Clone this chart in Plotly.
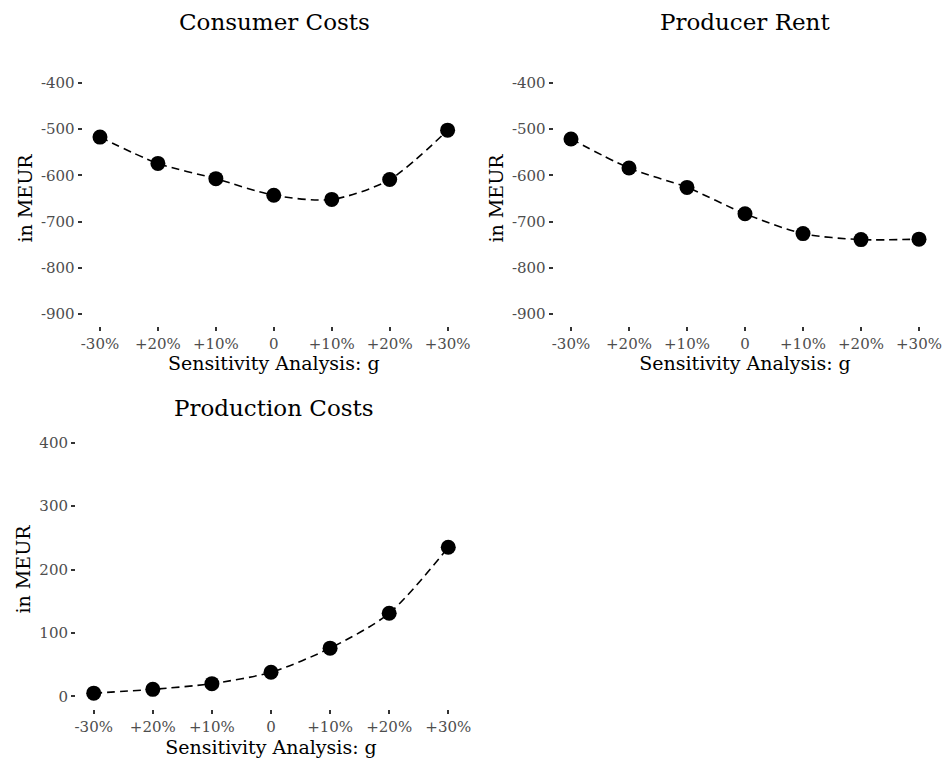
import plotly.graph_objects as go

# Sensitivity steps (positions 0..6) and their labels as printed on the axis
steps = [0, 1, 2, 3, 4, 5, 6]
step_labels = ["-30%", "+20%", "+10%", "0", "+10%", "+20%", "+30%"]

consumer_costs = [-517, -574, -607, -643, -652, -609, -502]
producer_rent = [-521, -584, -626, -683, -726, -739, -738]
production_costs = [5, 11, 20, 38, 76, 131, 235]

panel_titles = ["Consumer Costs", "Producer Rent", "Production Costs"]
y_ticks_neg = [-400, -500, -600, -700, -800, -900]
y_ticks_pos = [0, 100, 200, 300, 400]

FONT = "DejaVu Serif"
TICK_GREY = "#4D4D4D"

fig = go.Figure()

series = [consumer_costs, producer_rent, production_costs]
for i, ys in enumerate(series):
    suffix = "" if i == 0 else str(i + 1)
    fig.add_trace(
        go.Scatter(
            x=steps,
            y=ys,
            mode="lines+markers",
            line=dict(color="black", width=1.6, dash="8px,5px", shape="spline", smoothing=0.8),
            marker=dict(color="black", size=15),
            xaxis="x" + suffix,
            yaxis="y" + suffix,
            showlegend=False,
        )
    )

# panel positions in screen pixels
W, H = 944, 763
panels = [
    (82.6, 465.0, 71.5, 325.5, [-925, -375], y_ticks_neg),
    (553.6, 936.4, 71.5, 325.5, [-925, -375], y_ticks_neg),
    (76.0, 466.0, 430.0, 709.0, [-20, 420], y_ticks_pos),
]

layout = {}
for i, (x0, x1, y0, y1, yr, yt) in enumerate(panels):
    suffix = "" if i == 0 else str(i + 1)
    layout["xaxis" + suffix] = dict(
        domain=[x0 / W, x1 / W],
        anchor="y" + suffix,
        range=[-0.3, 6.3],
        tickvals=steps,
        ticktext=step_labels,
        ticks="outside",
        ticklen=4,
        tickwidth=1.5,
        tickcolor="#333333",
        tickfont=dict(family=FONT, size=15, color=TICK_GREY),
        showgrid=False,
        zeroline=False,
        showline=False,
        automargin=False,
        title=dict(text="Sensitivity Analysis: g", font=dict(family=FONT, size=19, color="black"), standoff=2),
    )
    layout["yaxis" + suffix] = dict(
        domain=[1 - y1 / H, 1 - y0 / H],
        anchor="x" + suffix,
        range=yr,
        tickvals=yt,
        ticktext=[str(v) for v in yt],  # plain hyphen like the original
        ticks="outside",
        ticklen=4,
        tickwidth=1.5,
        tickcolor="#333333",
        tickfont=dict(family=FONT, size=15, color=TICK_GREY),
        showgrid=False,
        zeroline=False,
        showline=False,
        automargin=False,
        title=dict(text="in MEUR", font=dict(family=FONT, size=19, color="black"), standoff=3),
    )

title_pos = [(274, 22), (745, 22), (274, 408)]
annotations = []
for (tx, ty), txt in zip(title_pos, panel_titles):
    annotations.append(
        dict(
            text=txt,
            x=tx / W,
            y=1 - ty / H,
            xref="paper",
            yref="paper",
            xanchor="center",
            yanchor="middle",
            showarrow=False,
            font=dict(family=FONT, size=23, color="black"),
        )
    )

fig.update_layout(
    **layout,
    annotations=annotations,
    width=W,
    height=H,
    margin=dict(l=0, r=0, t=0, b=0),
    plot_bgcolor="white",
    paper_bgcolor="white",
)

# drop the default body margin so the figure fills the window exactly
fig.write_html(
    "out.html",
    config={"displayModeBar": False},
    post_script="document.body.style.margin='0';",
)
